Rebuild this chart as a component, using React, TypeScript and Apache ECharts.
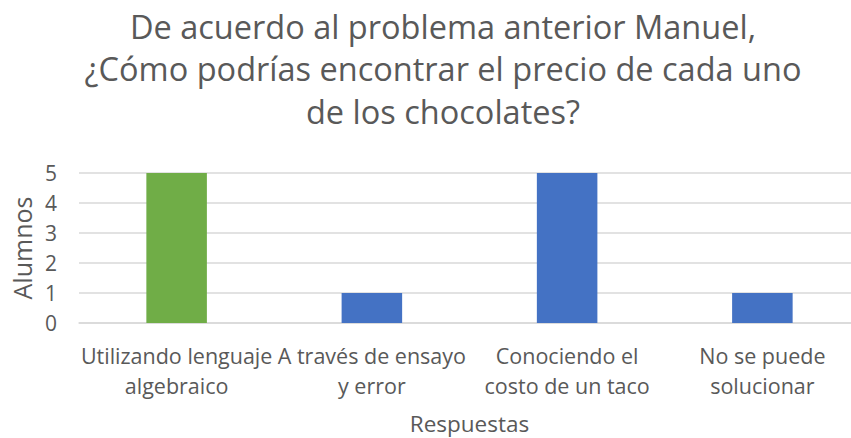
import React, { useEffect, useRef } from "react";
import * as echarts from "echarts";

const titleLines = [
  "De acuerdo al problema anterior Manuel,",
  "¿Cómo podrías encontrar el precio de cada uno",
  "de los chocolates?",
];
const categories = [
  "Utilizando lenguaje\nalgebraico",
  "A través de ensayo\ny error",
  "Conociendo el\ncosto de un taco",
  "No se puede\nsolucionar",
];
const values = [5, 1, 5, 1];
const barColors = ["#70AD47", "#4472C4", "#4472C4", "#4472C4"];
const yAxisName = "Alumnos";
const xAxisName = "Respuestas";

const FONT = "'Open Sans', 'Noto Sans', sans-serif";
const TEXT = "#595959";

export default function App() {
  const ref = useRef<HTMLDivElement>(null);
  useEffect(() => {
    if (!ref.current) return;
    const chart = echarts.init(ref.current, undefined, { renderer: "svg" });
    chart.setOption({
      animation: false,
      backgroundColor: "#ffffff",
      title: {
        text: titleLines.join("\n"),
        left: 438,
        textAlign: "center",
        top: 0,
        textStyle: {
          fontFamily: FONT,
          fontSize: 32.5,
          fontWeight: "normal",
          color: TEXT,
          lineHeight: 42.5,
        },
      },
      grid: { left: 79, right: 0, top: 173, bottom: 115 },
      xAxis: {
        type: "category",
        data: categories,
        name: xAxisName,
        nameLocation: "middle",
        nameGap: 87,
        nameTextStyle: { fontFamily: FONT, fontSize: 22.5, color: TEXT, lineHeight: 26 },
        axisLine: { show: true, lineStyle: { color: "#D9D9D9", width: 1.5 } },
        axisTick: { show: false },
        axisLabel: {
          fontFamily: FONT,
          fontSize: 21.5,
          color: TEXT,
          lineHeight: 30,
          margin: 17,
          interval: 0,
        },
      },
      yAxis: {
        type: "value",
        min: 0,
        max: 5,
        interval: 1,
        name: yAxisName,
        nameLocation: "middle",
        nameGap: 45,
        nameRotate: 90,
        nameTextStyle: { fontFamily: FONT, fontSize: 25, color: TEXT },
        axisLine: { show: false },
        axisTick: { show: false },
        axisLabel: { fontFamily: FONT, fontSize: 21, color: TEXT, margin: 22 },
        splitLine: { lineStyle: { color: "#D9D9D9", width: 1.5 } },
      },
      series: [
        {
          type: "bar",
          barWidth: "31%",
          data: values.map((v, i) => ({ value: v, itemStyle: { color: barColors[i] } })),
        },
      ],
    });
    return () => chart.dispose();
  }, []);
  return (
    <div style={{ position: "absolute", left: 0, top: 0, width: 851, height: 438, overflow: "hidden" }}>
      <div ref={ref} style={{ width: 860, height: 438 }} />
    </div>
  );
}
